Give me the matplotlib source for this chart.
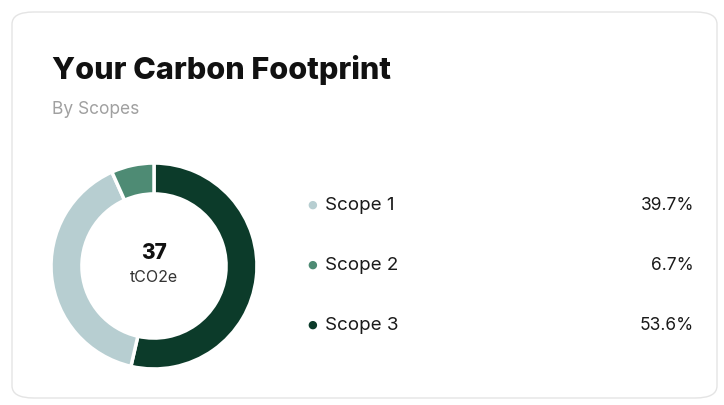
import matplotlib.pyplot as plt
from matplotlib.patches import FancyBboxPatch

# data
scopes = ["Scope 1", "Scope 2", "Scope 3"]
shares = [39.7, 6.7, 53.6]
colors = ["#b7ced1", "#4e8b74", "#0c3b2a"]
total = "37"
unit = "tCO2e"

plt.rcParams['font.family'] = ['Inter', 'DejaVu Sans']

W, H = 724, 405
fig = plt.figure(figsize=(W / 100, H / 100), dpi=100)
fig.patch.set_facecolor("white")

def fx(x):
    return x / W

def fy(y):
    return 1 - y / H

# card
card = FancyBboxPatch((fx(12), fy(398)), fx(705), 386 / H,
                      boxstyle="round,pad=0,rounding_size=0.03",
                      transform=fig.transFigure, facecolor="white",
                      edgecolor="#e4e4e4", linewidth=1.0, zorder=-10)
fig.patches.append(card)

fig.text(fx(52), fy(70), "Your Carbon Footprint", fontsize=22, fontweight="heavy",
         color="#111111", va="center", ha="left")
fig.text(fx(52), fy(110), "By Scopes", fontsize=12.5, color="#a0a0a0",
         va="center", ha="left")

# donut, clockwise from top: Scope 3, Scope 1, Scope 2
order = [2, 0, 1]
cx, cy, r = 154, 266, 104
ax = fig.add_axes([fx(cx - r), fy(cy + r), 2 * r / W, 2 * r / H])
ax.pie([shares[i] for i in order], colors=[colors[i] for i in order],
       startangle=90, counterclock=False, radius=1,
       wedgeprops=dict(width=0.3, edgecolor="white", linewidth=2.5))
ax.set_xlim(-1.01, 1.01)
ax.set_ylim(-1.01, 1.01)
ax.set_aspect("equal")
ax.axis("off")

fig.text(fx(cx), fy(253), total, fontsize=15, fontweight="heavy", color="#111111",
         ha="center", va="center")
fig.text(fx(cx), fy(277), unit, fontsize=11.5, color="#333333",
         ha="center", va="center")

# legend rows
for i, (name, val) in enumerate(zip(scopes, shares)):
    y = 205 + 60 * i
    fig.text(fx(312), fy(y), "\u25cf", fontsize=8, color=colors[i],
             ha="center", va="center", family="DejaVu Sans")
    fig.text(fx(325), fy(y), name, fontsize=13.5, color="#1a1a1a",
             ha="left", va="center")
    fig.text(fx(694), fy(y), f"{val}%", fontsize=12.5, color="#1a1a1a",
             ha="right", va="center")

fig.savefig("out.png", dpi=100)
